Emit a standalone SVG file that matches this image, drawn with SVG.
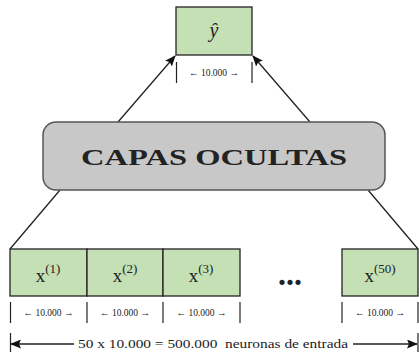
<svg xmlns="http://www.w3.org/2000/svg" width="419" height="352" viewBox="0 0 419 352">
<style>
.box{fill:#c5e0b4;stroke:#222;stroke-width:1.3}
.hid{fill:#c8c8c8;stroke:#555;stroke-width:1.5}
.ln{stroke:#222;stroke-width:1.3;fill:none}
.tk{stroke:#222;stroke-width:1.2}
.t{font-family:"Liberation Serif","DejaVu Serif",serif;fill:#222}
.dim{font-family:"Liberation Serif","DejaVu Serif",serif;font-size:9.5px;fill:#222;text-anchor:middle}
.x{font-size:19px;text-anchor:middle}
</style>
<defs>
<marker id="ah" markerWidth="11" markerHeight="9" refX="10" refY="4.5" orient="auto" markerUnits="userSpaceOnUse">
<path d="M0,0 L11,4.5 L0,9 L2,4.5 Z" fill="#111"/>
</marker>
</defs>
<rect width="419" height="352" fill="#fff"/>
<g id="connectors">
<line class="ln" x1="118" y1="122" x2="175" y2="56" marker-end="url(#ah)"/>
<line class="ln" x1="310" y1="122" x2="253" y2="56" marker-end="url(#ah)"/>
<line class="ln" x1="60" y1="190" x2="10" y2="249"/>
<line class="ln" x1="368" y1="190" x2="418" y2="249"/>
</g>
<g id="output">
<rect class="box" x="176" y="7" width="76" height="48"/>
<text class="t" x="214" y="37" font-size="20" font-style="italic" text-anchor="middle">ŷ</text>
<line class="tk" x1="176.5" y1="62" x2="176.5" y2="83"/>
<line class="tk" x1="252" y1="62" x2="252" y2="83"/>
<text class="dim" x="214" y="75.5">← 10.000 →</text>
</g>
<g id="hidden">
<rect class="hid" x="43" y="122" width="342" height="68" rx="13"/>
<text class="t" x="214" y="165" font-size="23" font-weight="bold" text-anchor="middle" textLength="266" lengthAdjust="spacingAndGlyphs">CAPAS OCULTAS</text>
</g>
<g id="x1">
<rect class="box" x="10" y="249" width="77" height="47"/>
<text class="t x" x="48" y="282">x<tspan font-size="13" dy="-9">(1)</tspan></text>
</g>
<g id="x2">
<rect class="box" x="87" y="249" width="76" height="47"/>
<text class="t x" x="125" y="282">x<tspan font-size="13" dy="-9">(2)</tspan></text>
</g>
<g id="x3">
<rect class="box" x="163" y="249" width="77" height="47"/>
<text class="t x" x="201" y="282">x<tspan font-size="13" dy="-9">(3)</tspan></text>
</g>
<g id="dots">
<text class="t" x="290" y="285" font-size="32" font-weight="bold" text-anchor="middle">...</text>
</g>
<g id="x50">
<rect class="box" x="342" y="249" width="76" height="47"/>
<text class="t x" x="380" y="282">x<tspan font-size="13" dy="-9">(50)</tspan></text>
</g>
<g id="dims">
<line class="tk" x1="10.5" y1="302" x2="10.5" y2="323"/>
<line class="tk" x1="87" y1="302" x2="87" y2="323"/>
<line class="tk" x1="163" y1="302" x2="163" y2="323"/>
<line class="tk" x1="240" y1="302" x2="240" y2="323"/>
<line class="tk" x1="342" y1="302" x2="342" y2="323"/>
<line class="tk" x1="418" y1="302" x2="418" y2="323"/>
<text class="dim" x="48.5" y="316">← 10.000 →</text>
<text class="dim" x="125" y="316">← 10.000 →</text>
<text class="dim" x="201.5" y="316">← 10.000 →</text>
<text class="dim" x="380" y="316">← 10.000 →</text>
</g>
<g id="total">
<line class="tk" x1="10.5" y1="333" x2="10.5" y2="352"/>
<line class="tk" x1="418" y1="333" x2="418" y2="352"/>
<line class="ln" x1="74" y1="344" x2="11" y2="344" marker-end="url(#ah)"/>
<line class="ln" x1="353" y1="344" x2="417" y2="344" marker-end="url(#ah)"/>
<text class="t" x="213" y="348" font-size="11.5" text-anchor="middle" textLength="270" lengthAdjust="spacingAndGlyphs" xml:space="preserve">50 x 10.000 = 500.000  neuronas de entrada</text>
</g>
</svg>
